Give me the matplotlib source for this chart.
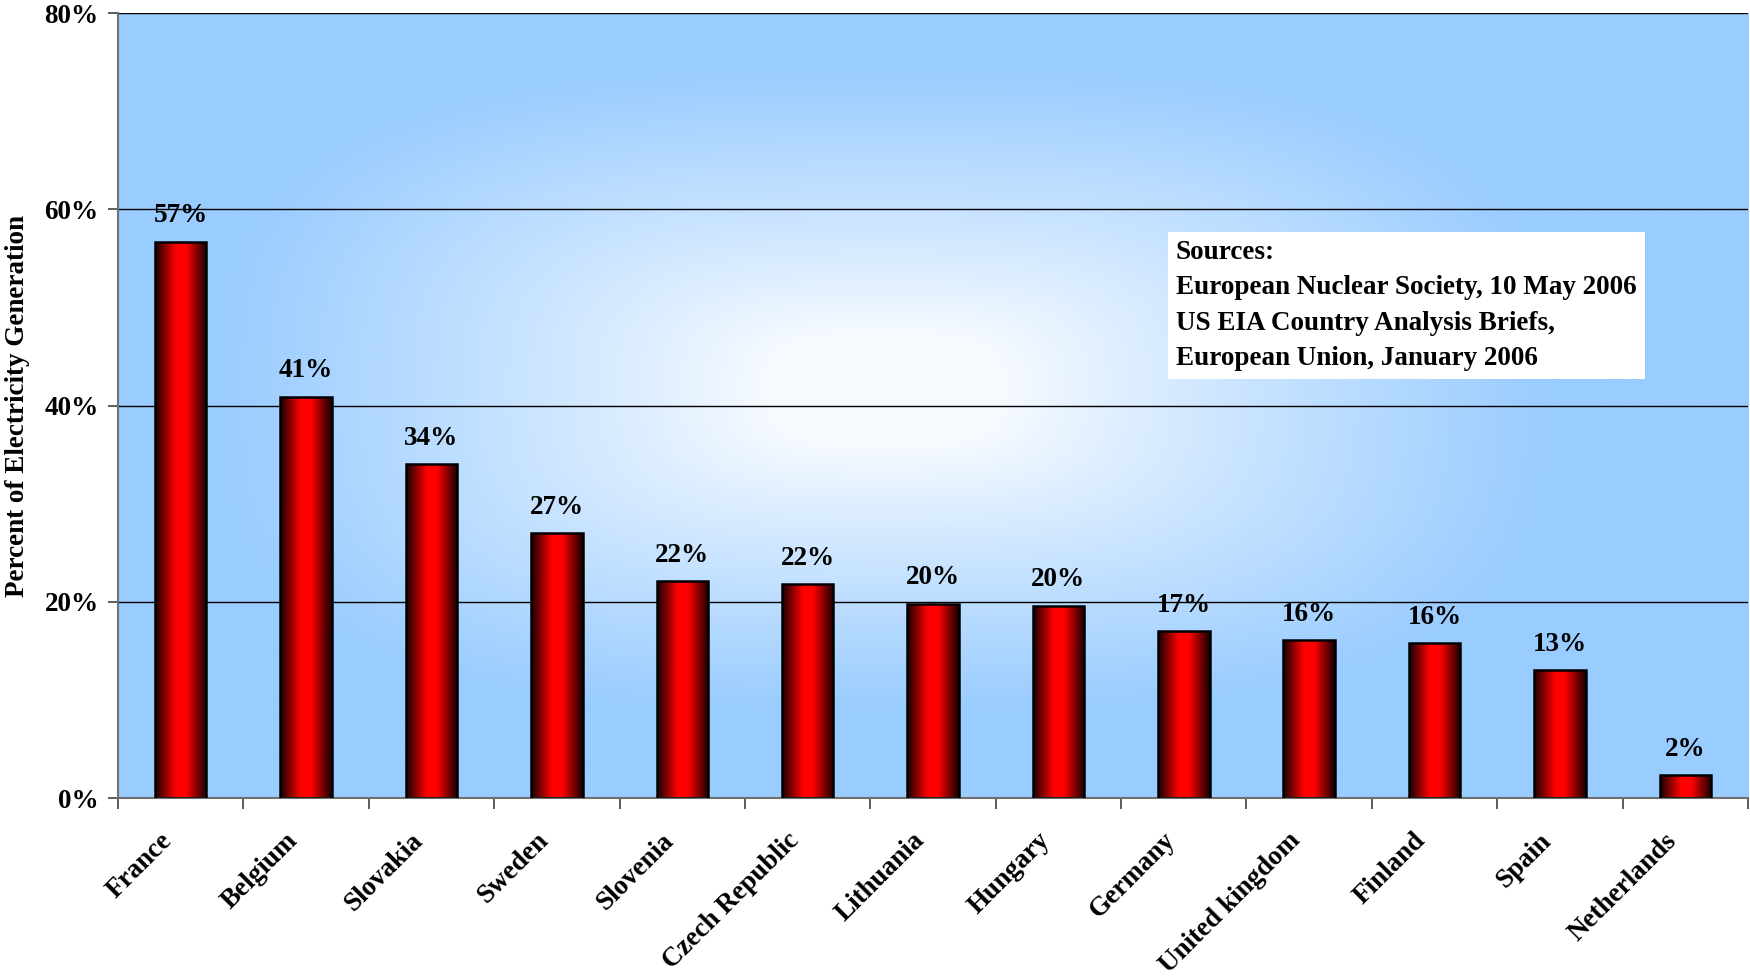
import numpy as np
import matplotlib
matplotlib.use("Agg")
import matplotlib.pyplot as plt
from matplotlib.colors import LinearSegmentedColormap
from matplotlib.ticker import FixedLocator, FuncFormatter
from matplotlib.transforms import ScaledTranslation

# data
countries = ["France", "Belgium", "Slovakia", "Sweden", "Slovenia",
             "Czech Republic", "Lithuania", "Hungary", "Germany",
             "United kingdom", "Finland", "Spain", "Netherlands"]
share = [56.7, 40.9, 34.0, 27.0, 22.1, 21.8, 19.8, 19.6, 17.0,
         16.1, 15.8, 13.0, 2.3]
y_ticks = [0, 20, 40, 60, 80]
sources = ("Sources:\n"
           "European Nuclear Society, 10 May 2006\n"
           "US EIA Country Analysis Briefs,\n"
           "European Union, January 2006")

plt.rcParams["font.family"] = ["Liberation Serif", "DejaVu Serif"]
plt.rcParams["font.weight"] = "bold"
FS = 19.5

fig = plt.figure(figsize=(17.5, 9.8), dpi=100)
ax = fig.add_axes([0.0674, 0.1857, 0.9315, 0.801])

# background: "from centre" gradient, white core fading to blue
gx = np.linspace(0, 1, 500)
gy = np.linspace(0, 1, 300)
X, Y = np.meshgrid(gx, gy)
u = np.abs(X - 0.47) / 0.5
v = np.abs(Y - 0.52) / 0.5
t = (u ** 3 + v ** 3) ** (1 / 3)
t = np.clip((t - 0.15) / 0.67, 0, 1)
t = t ** 0.9
c0 = np.array([246, 250, 255]) / 255.0
c1 = np.array([153, 204, 255]) / 255.0
bg = c0 + (c1 - c0) * t[..., None]
ax.imshow(bg, extent=[0, 1, 0, 1], transform=ax.transAxes, origin="lower",
          aspect="auto", zorder=0, interpolation="bilinear")

# bars
x = np.arange(len(countries))
bars = ax.bar(x, share, width=0.41, color="none", edgecolor="black",
              linewidth=1.8, zorder=3)

bar_cmap = LinearSegmentedColormap.from_list(
    "cyl", [(0, "#150000"), (0.4, "#ff0000"), (0.6, "#ff0000"), (1, "#150000")])
grad = np.linspace(0, 1, 128).reshape(1, -1)
for b in bars:
    x0, w, h = b.get_x(), b.get_width(), b.get_height()
    im = ax.imshow(grad, cmap=bar_cmap, extent=[x0, x0 + w, 0, h],
                   aspect="auto", zorder=2, interpolation="bilinear")
    im.set_clip_path(b)

for xi, v in zip(x, share):
    ax.annotate(f"{v:.0f}%", (xi, v), xytext=(0, 14), textcoords="offset points",
                ha="center", va="baseline", fontsize=FS, fontweight="bold")

ax.set_xlim(-0.5, len(countries) - 0.5)
ax.set_ylim(0, 80)

# grid lines
for yv in y_ticks[1:]:
    ax.axhline(yv, color="black", linewidth=1.0, zorder=1)

ax.set_yticks(y_ticks)
ax.yaxis.set_major_formatter(FuncFormatter(lambda v, p: f"{v:.0f}%"))
ax.tick_params(axis="y", length=7, width=1.2, pad=7, labelsize=FS,
               color="#404040")

ax.xaxis.set_major_locator(FixedLocator(x))
ax.set_xticklabels(countries, rotation=45, ha="right", va="center",
                   rotation_mode="anchor", fontsize=FS, fontweight="bold")
ax.tick_params(axis="x", which="major", length=0, pad=28)
shift = ScaledTranslation(-9 / 72, 0, fig.dpi_scale_trans)
for lab in ax.get_xticklabels():
    lab.set_transform(lab.get_transform() + shift)
ax.xaxis.set_minor_locator(FixedLocator(np.arange(len(countries) + 1) - 0.5))
ax.tick_params(axis="x", which="minor", length=8, width=1.2, color="#404040")

for s in ["top", "right"]:
    ax.spines[s].set_visible(False)
ax.spines["left"].set_color("#707070")
ax.spines["bottom"].set_color("#707070")
ax.spines["left"].set_linewidth(1.5)
ax.spines["bottom"].set_linewidth(1.5)

ax.set_ylabel("Percent of Electricity Generation", fontsize=FS,
              fontweight="bold")
ax.yaxis.set_label_coords(-0.054, 0.5)

ax.text(0.649, 0.711, sources, transform=ax.transAxes, fontsize=FS,
        fontweight="bold", va="top", ha="left", linespacing=1.55, zorder=5,
        bbox=dict(facecolor="white", edgecolor="none", boxstyle="square,pad=0.3"))

fig.savefig("out.png", dpi=100)
